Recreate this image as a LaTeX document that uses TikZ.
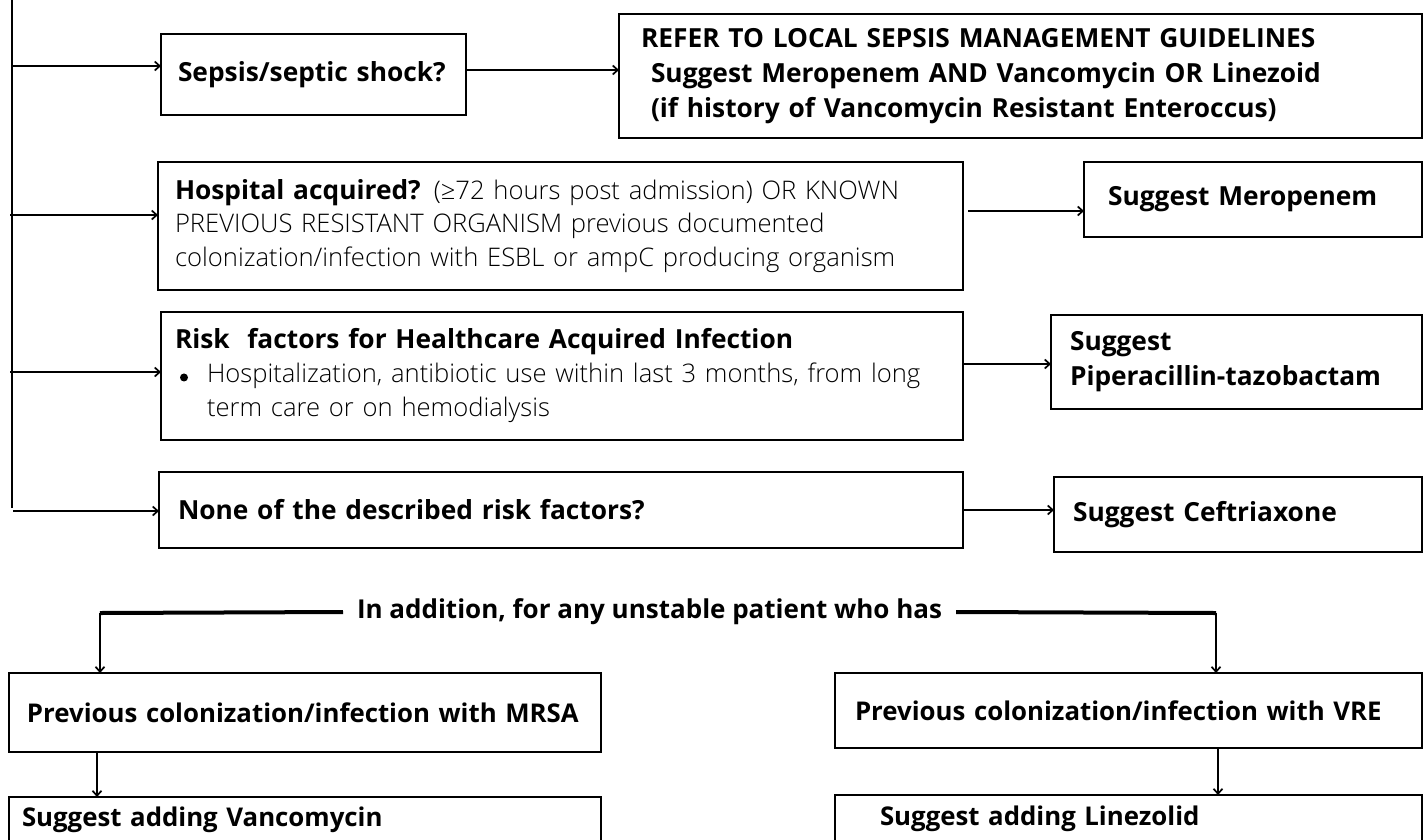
\documentclass[tikz,border=0pt]{standalone}
\usepackage{fontspec}
\setmainfont{Open Sans}
\newfontfamily\lightfont{Open Sans Light}
\newcommand\lightreg{\mdseries\lightfont\fontsize{25.6}{34}\selectfont}
\usetikzlibrary{arrows.meta,calc}
\begin{document}
\begin{tikzpicture}[x=1pt,y=-1pt,
  box/.style={draw, line width=2.6pt, anchor=north west, align=left, inner ysep=0pt, outer sep=0pt,
    font=\fontsize{26.3}{35}\selectfont\bfseries},
  lowbox/.style={font=\fontsize{25.8}{34}\selectfont\bfseries},
  bx/.style n args={4}{minimum width=#1pt, minimum height=#2pt, inner xsep=#3pt, text width=#4pt},
  arr/.style={line width=1.7pt, -{Straight Barb[length=5pt,width=9pt]}},
  trunk/.style={line width=2pt},
  thickline/.style={line width=4pt},
]
\clip (0,0) rectangle (1425,839);
\fill[white] (0,0) rectangle (1425,839);

% boxes
\node[box, bx={305}{81}{17}{271}] (sepsis) at (161,34) {Sepsis/septic shock?};
\node[box, bx={803}{124}{22}{759}] (refer) at (619,14) {REFER TO LOCAL SEPSIS MANAGEMENT GUIDELINES\\
\hspace*{10pt}Suggest Meropenem AND Vancomycin OR Linezoid\\
\hspace*{10pt}(if history of Vancomycin Resistant Enteroccus)};
\node[box, bx={805}{128}{17}{771}, font=\fontsize{26.3}{33.5}\selectfont\bfseries] (hosp) at (158,162) {Hospital acquired? {\lightreg (≥72 hours post admission) OR KNOWN}\\
{\lightreg PREVIOUS RESISTANT ORGANISM previous documented}\\
{\lightreg colonization/infection with ESBL or ampC producing organism}};
\node[box, bx={338}{75}{24}{290}] (mero) at (1084,162) {Suggest Meropenem};
\node[box, bx={802}{128}{14}{774}, font=\fontsize{26.3}{34}\selectfont\bfseries] (risk) at (161,312) {Risk\ \ factors for Healthcare Acquired Infection\\
{\lightreg\hspace*{5pt}\makebox[27pt][l]{\raisebox{1.5pt}{\tikz\fill (0,0) circle (4pt);}}Hospitalization, antibiotic use within last 3 months, from long}\\
{\lightreg\hspace*{32pt}term care or on hemodialysis}};
\node[box, bx={371}{94}{19}{333}] (pip) at (1051,315) {Suggest\\Piperacillin-tazobactam};
\node[box, bx={804}{76}{19}{766}] (none) at (159,472) {None of the described risk factors?};
\node[box, bx={368}{75}{19}{330}] (ceft) at (1054,477) {Suggest Ceftriaxone};

\node[box, lowbox, bx={592}{79}{18}{556}] (mrsa) at (9,673) {Previous colonization/infection with MRSA};
\node[box, lowbox, bx={592}{45}{13}{566}] (vanc) at (9,797) {Suggest adding Vancomycin};
\node[box, lowbox, bx={587}{75}{20}{547}] (vre) at (835,673) {Previous colonization/infection with VRE};
\node[box, lowbox, bx={587}{48}{45}{497}] (linez) at (835,795) {Suggest adding Linezolid};

\node[font=\fontsize{26}{30}\selectfont\bfseries, inner xsep=14pt, inner ysep=0pt, outer sep=0pt, anchor=west] (addl) at (343,612) {In addition, for any unstable patient who has};

% trunk
\coordinate (ttop) at (12,0);
\coordinate (tbot) at (12,508);
\draw[trunk] (ttop) -- (tbot);

\coordinate (a1) at (13,66);
\coordinate (a2) at (10,215);
\coordinate (a3) at (10,372);
\coordinate (a4) at (13,511);
\draw[arr] (a1) -- (a1 -| sepsis.west);
\draw[arr] (a2) -- (a2 -| hosp.west);
\draw[arr] (a3) -- (a3 -| risk.west);
\draw[arr] (a4) -- (a4 -| none.west);

\draw[arr] ([yshift=4.5pt]sepsis.east) -- ([yshift=4.5pt]sepsis.east -| refer.west);
\draw[arr] ([xshift=5pt,yshift=15pt]hosp.east) -- ([yshift=15pt]hosp.east -| mero.west);
\draw[arr] ([yshift=12pt]risk.east) -- ([yshift=12pt]risk.east -| pip.west);
\draw[arr] (none.east) -- (none.east -| ceft.west);

% bottom
\coordinate (l1) at (100,613);
\coordinate (r1) at (1216,613);
\draw[thickline] (addl.west) -- (l1);
\draw[arr] (l1) -- (l1 |- mrsa.north);
\draw[thickline] (addl.east) -- (r1);
\draw[arr] (r1) -- (r1 |- vre.north);
\draw[arr] ([xshift=88pt]mrsa.south west) -- ([xshift=88pt]mrsa.south west |- vanc.north);
\draw[arr] ([xshift=383pt]vre.south west) -- ([xshift=383pt]vre.south west |- linez.north);
\end{tikzpicture}
\end{document}
